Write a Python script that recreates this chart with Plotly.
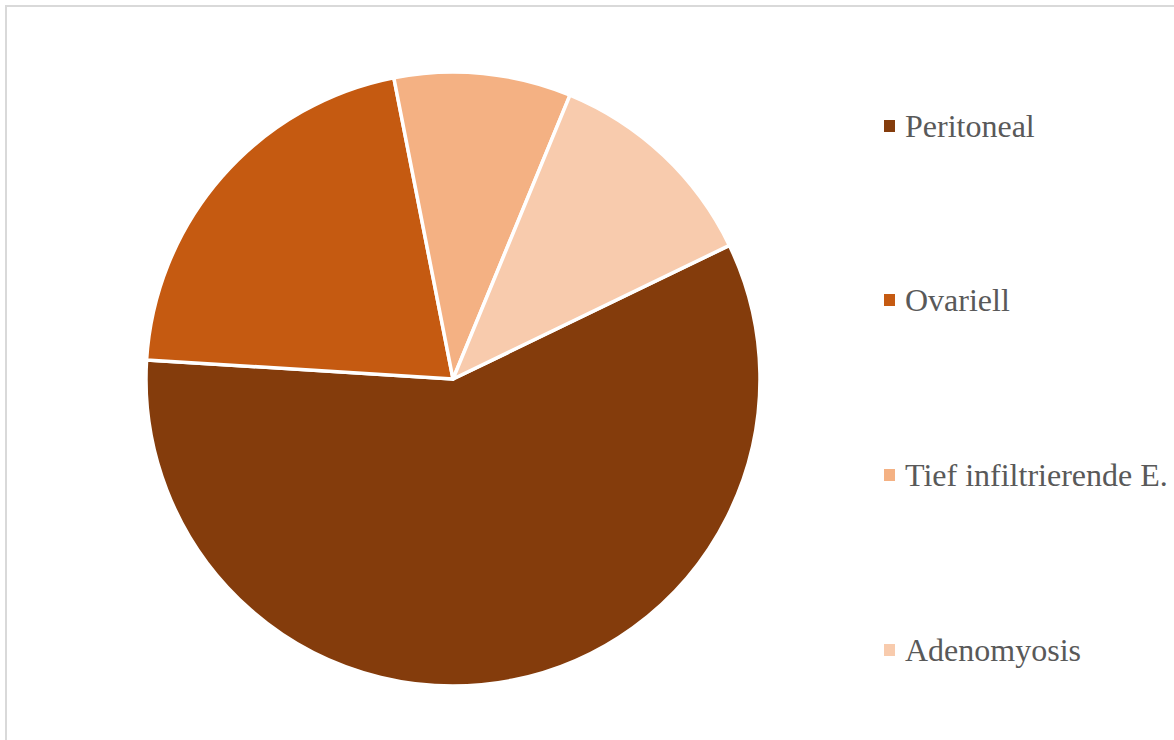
import plotly.graph_objects as go

labels = ["Peritoneal", "Ovariell", "Tief infiltrierende E.", "Adenomyosis"]
values = [58.1, 20.9, 9.3, 11.6]
colors = ["#843C0C", "#C55A11", "#F4B183", "#F8CBAD"]

W, H = 1174, 740

fig = go.Figure(go.Pie(
    labels=labels,
    values=values,
    sort=False,
    direction="clockwise",
    rotation=64.2,
    marker=dict(colors=colors, line=dict(color="white", width=3.5)),
    textinfo="none",
    hoverinfo="label+percent",
    showlegend=False,
    domain=dict(x=[146 / W, 760 / W], y=[1 - 686 / H, 1 - 72 / H]),
))

# manual legend
legend_y = [126, 300, 475, 650]
for lab, col, yy in zip(labels, colors, legend_y):
    fig.add_shape(type="rect", xref="paper", yref="paper",
                  x0=884 / W, x1=895 / W, y0=1 - (yy + 6) / H, y1=1 - (yy - 6) / H,
                  fillcolor=col, line=dict(width=0))
    fig.add_annotation(x=903 / W, y=1 - yy / H, xref="paper", yref="paper",
                       text=lab, showarrow=False, xanchor="left", yanchor="middle",
                       font=dict(family="Liberation Serif, Times New Roman, serif",
                                 size=32, color="#595959"))

# chart area border (top and left visible)
fig.add_shape(type="rect", xref="paper", yref="paper",
              x0=6 / W, x1=1 + 20 / W, y0=-20 / H, y1=1 - 6 / H,
              line=dict(color="#D9D9D9", width=2), fillcolor="rgba(0,0,0,0)")

fig.update_layout(
    width=W, height=H,
    margin=dict(l=0, r=0, t=0, b=0),
    paper_bgcolor="white",
    plot_bgcolor="white",
)

fig.write_html("out.html")
